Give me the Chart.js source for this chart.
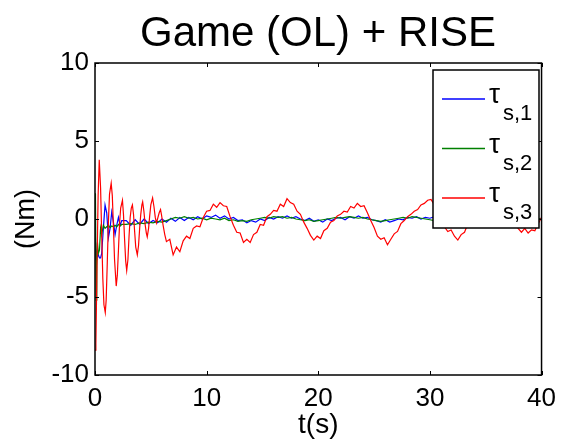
<!DOCTYPE html>
<html>
<head>
<meta charset="utf-8">
<script src="https://cdn.jsdelivr.net/npm/chart.js@4.4.1/dist/chart.umd.min.js"></script>
<style>
  html, body { margin: 0; padding: 0; background: #fff; }
  #chart { display: block; }
</style>
</head>
<body>
<canvas id="chart" width="564" height="444"></canvas>
<script>
// time samples for tau_s,1 and tau_s,2
var timeBG = [0, 0.04, 0.1, 0.16, 0.22, 0.3, 0.4, 0.5, 0.6, 0.75, 0.9, 1.05, 1.2, 1.35, 1.5, 1.65, 1.8, 1.95, 2.1, 2.25, 2.4,
  2.8, 3.2, 3.6, 4.0, 4.4, 4.8, 5.2, 5.6, 6.0, 6.4, 6.8, 7.2, 7.6, 8.0, 8.4, 8.8, 9.2, 9.6, 10.0, 10.4,
  10.8, 11.2, 11.6, 12.0, 12.4, 12.8, 13.2, 13.6, 14.0, 14.4, 14.8, 15.2, 15.6, 16.0, 16.4, 16.8, 17.2, 17.6, 18.0, 18.4,
  18.8, 19.2, 19.6, 20.0, 20.4, 20.8, 21.2, 21.6, 22.0, 22.4, 22.8, 23.2, 23.6, 24.0, 24.4, 24.8, 25.2, 25.6, 26.0, 26.4,
  26.8, 27.2, 27.6, 28.0, 28.4, 28.8, 29.2, 29.6, 30.0, 30.4, 30.8, 31.2, 31.6, 32.0, 32.4, 32.8, 33.2, 33.6, 34.0, 34.4,
  34.8, 35.2, 35.6, 36.0, 36.4, 36.8, 37.2, 37.6, 38.0, 38.4, 38.8, 39.2, 39.6, 40.0];

var tau1 = [0, -1.2, -2.6, -2.2, -2.4, -2.3, -2.5, -2.5, -2.2, -0.6, 0.9, 0.4, -1.2, -0.6, 0.45, -0.2, -1.0, -0.4, 0.1, -0.4, -0.1,
  -0.1, -0.4, -0.05, -0.35, 0.0, -0.3, -0.1, -0.25, 0.0, -0.2,
  0.05, -0.15, 0.1, -0.1, 0.1, -0.05, 0.15, 0.0, 0.2, 0.1,
  0.25, 0.05, 0.2, 0.0, 0.1, -0.1, -0.05, -0.25, -0.1, -0.2,
  0.0, -0.1, 0.1, 0.0, 0.15, 0.05, 0.2, 0.05, 0.15, 0.0,
  -0.1, 0.05, -0.15, -0.05, -0.2, 0.0, -0.1, 0.05, 0.1, -0.05,
  0.15, 0.05, 0.2, 0.05, 0.1, -0.05, -0.1, -0.2, -0.05, -0.2,
  -0.1, 0.0, -0.05, 0.1, 0.05, 0.15, 0.0, 0.1, 0.05, 0.15,
  0.0, 0.1, -0.05, -0.1, -0.2, -0.05, -0.15, 0.0, -0.1, 0.05,
  0.1, 0.0, 0.15, 0.05, 0.2, 0.05, 0.1, -0.05, -0.1, -0.2,
  -0.05, -0.15, 0.0, 0.05];

var tau2 = [0, 1.65, -5.2, -3.0, -1.5, -2.2, -2.0, -0.6, -1.0, -0.4, -0.6, -0.5, -0.4, -0.55, -0.45, -0.5, -0.4, -0.5, -0.35, -0.45, -0.35,
  -0.35, -0.3, -0.35, -0.25, -0.3, -0.2, -0.25, -0.15, -0.2, -0.1,
  0.0, 0.1, 0.05, 0.15, 0.05, 0.1, 0.0, 0.05, -0.05, 0.05,
  0.0, -0.05, 0.05, -0.1, -0.05, -0.15, -0.1, -0.15, -0.05, 0.0,
  0.05, 0.1, 0.05, 0.15, 0.1, 0.15, 0.05, 0.1, 0.0, -0.05,
  -0.1, -0.05, -0.15, -0.1, -0.05, 0.0, 0.05, 0.1, 0.05, 0.1,
  0.15, 0.1, 0.05, 0.1, 0.0, -0.05, -0.1, -0.15, -0.1, -0.05,
  0.0, 0.05, 0.1, 0.05, 0.15, 0.1, 0.05, 0.0, -0.05, -0.1,
  -0.05, -0.15, -0.1, -0.15, -0.05, 0.0, 0.05, 0.1, 0.05, 0.15,
  0.1, 0.05, 0.15, 0.05, 0.0, -0.05, -0.1, -0.05, -0.15, -0.1,
  -0.05, 0.0, 0.05, 0.0];

// tau_s,3 has its own (denser at start) time samples
var timeRedStart = [0, 0.08, 0.18, 0.28, 0.38, 0.5, 0.6, 0.7, 0.8, 0.92, 1.0, 1.1, 1.2, 1.3, 1.45, 1.55, 1.65, 1.75, 1.9, 2.0,
  2.1, 2.2, 2.3, 2.46, 2.55, 2.65, 2.75, 2.84, 2.95, 3.05, 3.15, 3.25, 3.35, 3.45, 3.55, 3.65, 3.79, 3.9, 4.0, 4.1,
  4.2, 4.27, 4.38, 4.5, 4.6, 4.68, 4.8, 4.9, 5.0, 5.16, 5.28, 5.4, 5.5, 5.6, 5.75, 5.87, 5.95, 6.1, 6.25, 6.4];
var timeRedRest = [6.7, 7.0, 7.3, 7.6, 7.9, 8.2, 8.5, 8.8, 9.1, 9.4, 9.7, 10.0, 10.3, 10.6, 10.9, 11.2, 11.5, 11.8, 12.1, 12.4,
  12.7, 13.0, 13.3, 13.6, 13.9, 14.2, 14.5, 14.8, 15.1, 15.4, 15.7, 16.0, 16.3, 16.6, 16.9, 17.2, 17.5, 17.8, 18.1, 18.4,
  18.7, 19.0, 19.3, 19.6, 19.9, 20.2, 20.5, 20.8, 21.1, 21.4, 21.7, 22.0, 22.3, 22.6, 22.9, 23.2, 23.5, 23.8, 24.1, 24.4,
  24.7, 25.0, 25.3, 25.6, 25.9, 26.2, 26.5, 26.8, 27.1, 27.4, 27.7, 28.0, 28.3, 28.6, 28.9, 29.2, 29.5, 29.8, 30.1, 30.4,
  30.7, 31.0, 31.3, 31.6, 31.9, 32.2, 32.5, 32.8, 33.1, 33.4, 33.7, 34.0, 34.3, 34.6, 34.9, 35.2, 35.5, 35.8, 36.1, 36.4,
  36.7, 37.0, 37.3, 37.6, 37.9, 38.2, 38.5, 38.8, 39.1, 39.4, 39.7, 40.0];

var tau3Start = [-8.4, -8.0, -3.0, 1.5, 3.8, 2.0, -1.0, -3.8, -5.5, -6.0, -5.2, -2.8, -0.2, 1.6, 2.3, 1.5, -0.5, -2.6, -4.3, -3.6,
  -2.0, -0.3, 0.7, 1.2, 0.3, -1.3, -2.7, -3.3, -2.6, -1.1, 0.1, 0.7, 0.9, 0.3, -0.8, -1.8, -2.3, -1.7, -0.6, 0.3,
  0.9, 1.1, 0.5, -0.4, -0.9, -1.15, -0.6, 0.2, 0.9, 1.35, 0.8, 0.1, -0.25, 0.0, 0.4, 0.6, 0.3, -0.4, -1.0, -1.45];
var tau3Rest = [-1.3, -2.3, -1.8, -2.1, -1.4, -1.1, -1.25, -0.6, -0.45, -0.5,
  0.1, 0.5, 0.55, 0.95, 0.75, 1.05, 0.85, 0.8, 0.15, -0.4,
  -0.85, -0.9, -1.5, -1.3, -1.5, -1.0, -0.85, -0.35, -0.4, 0.15,
  0.3, 0.55, 0.5, 0.95, 0.8, 1.3, 1.05, 0.95, 0.5, 0.3,
  -0.2, -0.6, -1.05, -1.35, -1.1, -1.25, -0.75, -0.6, -0.2, -0.1,
  0.2, 0.3, 0.5, 0.45, 0.8, 0.7, 1.0, 0.8, 0.85, 0.4,
  -0.1, -0.55, -1.1, -1.3, -1.2, -1.65, -1.3, -0.95, -0.8, -0.3,
  -0.1, 0.15, 0.3, 0.5, 0.6, 0.9, 1.0, 1.2, 1.25, 0.9,
  0.4, 0.0, -0.5, -0.8, -0.7, -1.1, -1.35, -1.0, -0.85, -0.3,
  0.05, 0.4, 0.35, 0.7, 0.6, 1.0, 0.85, 1.1, 1.0, 1.15,
  0.9, 0.6, 0.1, -0.3, -0.6, -0.85, -0.6, -0.9, -0.7, -0.75,
  -0.3, 0.1];

var seriesNames = ['s,1', 's,2', 's,3'];
var seriesColors = ['#0000ff', '#008000', '#ff0000'];
var xTicks = [0, 10, 20, 30, 40];
var yTicks = [-10, -5, 0, 5, 10];

var FONT = "'Liberation Sans', Arial, sans-serif";

function toPoints(ts, vs) {
    var pts = [];
    for (let i = 0; i < ts.length; i++) {
        pts.push({x: ts[i], y: vs[i]});
    }
    return pts;
}

// axes box + inward tick marks, drawn like matlab
var boxPlugin = {
    id: 'box',
    afterDatasetsDraw(chart) {
        var ctx = chart.ctx;
        var a = chart.chartArea;
        var xs = chart.scales.x, ys = chart.scales.y;
        ctx.save();
        ctx.strokeStyle = '#000';
        ctx.lineWidth = 1;
        ctx.beginPath();
        xTicks.forEach(function (v) {
            var px = Math.round(xs.getPixelForValue(v)) + 0.5;
            ctx.moveTo(px, a.bottom); ctx.lineTo(px, a.bottom - 4);
            ctx.moveTo(px, a.top); ctx.lineTo(px, a.top + 4);
        });
        yTicks.forEach(function (v) {
            var py = Math.round(ys.getPixelForValue(v)) + 0.5;
            ctx.moveTo(a.left, py); ctx.lineTo(a.left + 4, py);
            ctx.moveTo(a.right, py); ctx.lineTo(a.right - 4, py);
        });
        ctx.stroke();
        ctx.lineWidth = 1.5;
        ctx.strokeRect(a.left, a.top, a.right - a.left, a.bottom - a.top);
        ctx.restore();
    },
    afterDraw(chart) {
        var ctx = chart.ctx;
        ctx.save();
        // title
        ctx.fillStyle = '#000';
        ctx.font = '42px ' + FONT;
        ctx.textAlign = 'center';
        ctx.textBaseline = 'alphabetic';
        ctx.fillText('Game (OL) + RISE', 318, 46);

        // legend box
        ctx.fillStyle = '#fff';
        ctx.fillRect(433, 70, 106, 158);
        ctx.strokeStyle = '#000';
        ctx.lineWidth = 1.5;
        ctx.strokeRect(433, 70, 106, 158);
        var rowY = [99, 148.5, 198];
        for (let i = 0; i < seriesNames.length; i++) {
            ctx.strokeStyle = seriesColors[i];
            ctx.lineWidth = 1.5;
            ctx.beginPath();
            ctx.moveTo(442, rowY[i]);
            ctx.lineTo(485, rowY[i]);
            ctx.stroke();
            ctx.fillStyle = '#000';
            ctx.textAlign = 'left';
            ctx.font = '28px ' + FONT;
            ctx.fillText('\u03c4', 489, rowY[i] + 4);
            ctx.font = '22px ' + FONT;
            ctx.fillText(seriesNames[i], 503, rowY[i] + 21);
        }
        ctx.restore();
    }
};

new Chart(document.getElementById('chart'), {
    type: 'line',
    data: {
        datasets: [
            {label: 'tau s,1', data: toPoints(timeBG, tau1), borderColor: seriesColors[0], order: 3},
            {label: 'tau s,2', data: toPoints(timeBG, tau2), borderColor: seriesColors[1], order: 2},
            {label: 'tau s,3', data: toPoints(timeRedStart.concat(timeRedRest), tau3Start.concat(tau3Rest)), borderColor: seriesColors[2], order: 1}
        ]
    },
    options: {
        responsive: false,
        animation: false,
        devicePixelRatio: 1,
        layout: {padding: {top: 63, right: 19, left: 0, bottom: 0}},
        elements: {
            point: {radius: 0},
            line: {borderWidth: 1.2, tension: 0}
        },
        plugins: {
            legend: {display: false},
            title: {display: false},
            tooltip: {enabled: false}
        },
        scales: {
            x: {
                type: 'linear',
                min: 0, max: 40,
                afterBuildTicks: function (s) { s.ticks = xTicks.map(function (v) { return {value: v}; }); },
                afterFit: function (s) { s.height = 69; },
                grid: {display: false, drawTicks: false},
                border: {display: false},
                ticks: {color: '#000', font: {family: FONT, size: 26}, padding: 8, maxRotation: 0},
                title: {display: true, text: 't(s)', color: '#000', font: {family: FONT, size: 28}, padding: {top: 0, bottom: 2}}
            },
            y: {
                type: 'linear',
                min: -10, max: 10,
                afterBuildTicks: function (s) { s.ticks = yTicks.map(function (v) { return {value: v}; }); },
                afterFit: function (s) { s.width = 95; },
                grid: {display: false, drawTicks: false},
                border: {display: false},
                ticks: {color: '#000', font: {family: FONT, size: 26}, padding: 6},
                title: {display: true, text: '(Nm)', color: '#000', font: {family: FONT, size: 27}, padding: {top: 10, bottom: 0}}
            }
        }
    },
    plugins: [boxPlugin]
});
</script>
</body>
</html>
